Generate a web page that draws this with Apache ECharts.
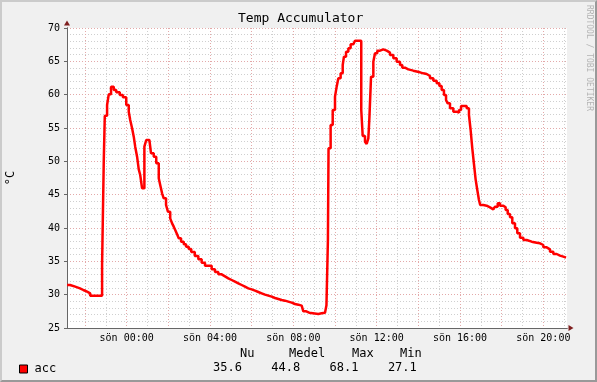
<!DOCTYPE html>
<html>
<head>
<meta charset="utf-8">
<script src="https://cdn.jsdelivr.net/npm/echarts@6/dist/echarts.min.js"></script>
<style>
  html, body { margin: 0; padding: 0; background: #f0f0f0; }
  #wrap { position: relative; width: 597px; height: 382px; }
  #chart { position: absolute; left: 0; top: 0; width: 597px; height: 382px; }
  #frame { position: absolute; left: 0; top: 0; width: 597px; height: 382px; box-sizing: border-box;
           border-top: 2px solid #cbcbcb; border-left: 2px solid #cbcbcb;
           border-right: 2px solid #999999; border-bottom: 2px solid #999999; pointer-events: none; }
</style>
</head>
<body>
<div id="wrap"><div id="chart"></div><div id="frame"></div></div>
<script>
// ---- data (hours relative to "sön 00:00", temperature °C) ----
const hours = [
  -2.86, -2.72, -2.47, -2.24, -2.08, -1.90, -1.75, -1.18, -1.10, -1.05,
  -0.94, -0.86, -0.75, -0.62, -0.50, -0.33, -0.18, -0.02, 0.10, 0.17,
  0.26, 0.34, 0.41, 0.50, 0.58, 0.65, 0.74, 0.85, 0.94, 1.09,
  1.17, 1.30, 1.42, 1.54, 1.61, 1.70, 1.78, 1.89, 1.98, 2.09,
  2.18, 2.26, 2.33, 2.42, 2.50, 2.61, 2.74, 2.85, 2.98, 3.10,
  3.27, 3.44, 3.60, 3.76, 4.08, 4.24, 4.40, 4.56, 4.72, 4.88,
  5.04, 5.20, 5.36, 5.52, 5.68, 5.84, 6.00, 6.16, 6.32, 6.48,
  6.64, 6.80, 6.96, 7.12, 7.28, 7.44, 7.60, 7.76, 7.92, 8.08,
  8.24, 8.40, 8.48, 8.62, 8.76, 9.20, 9.36, 9.52, 9.59, 9.66,
  9.69, 9.79, 9.89, 10.00, 10.08, 10.16, 10.27, 10.37, 10.43, 10.53,
  10.64, 10.75, 10.88, 10.96, 11.26, 11.33, 11.44, 11.52, 11.60, 11.65,
  11.73, 11.84, 11.92, 12.03, 12.16, 12.32, 12.48, 12.64, 12.80, 12.96,
  13.12, 13.23, 13.36, 13.52, 13.76, 14.08, 14.24, 14.40, 14.56, 14.72,
  14.88, 15.01, 15.12, 15.23, 15.33, 15.41, 15.52, 15.68, 15.84, 15.95,
  16.05, 16.32, 16.43, 16.51, 16.59, 16.67, 16.75, 16.83, 16.91, 16.97,
  17.12, 17.28, 17.44, 17.60, 17.68, 17.81, 17.92, 18.08, 18.19, 18.29,
  18.40, 18.51, 18.64, 18.75, 18.88, 19.04, 19.20, 19.44, 19.68, 19.84,
  20.00, 20.16, 20.32, 20.48, 20.64, 20.80, 20.96, 21.09
];
const temps = [
  31.45, 31.2, 30.95, 30.7, 30.45, 30.2, 29.85, 34.45, 49.95, 56.85,
  58.45, 60.05, 61.2, 60.7, 60.35, 59.95, 59.6, 58.45, 57.45, 56.2,
  54.95, 53.7, 52.2, 50.7, 48.8, 47.95, 45.95, 52.2, 53.2, 52.95,
  51.2, 50.7, 49.7, 47.45, 46.45, 45.2, 44.45, 43.45, 42.45, 41.45,
  40.7, 40.2, 39.7, 39.05, 38.45, 37.95, 37.55, 37.2, 36.85, 36.4,
  35.8, 35.3, 34.8, 34.35, 33.8, 33.4, 33.05, 32.75, 32.45, 32.2,
  31.95, 31.7, 31.45, 31.2, 30.95, 30.8, 30.6, 30.4, 30.2, 30.0,
  29.85, 29.7, 29.5, 29.35, 29.2, 29.1, 28.95, 28.8, 28.6, 28.5,
  28.35, 28.2, 27.5, 27.3, 27.1, 27.2, 27.3, 27.5, 28.4, 38.2,
  51.95, 55.45, 57.7, 59.7, 61.2, 62.45, 63.2, 64.45, 65.7, 66.45,
  66.95, 67.55, 67.45, 68.1, 57.7, 53.8, 52.95, 52.6, 53.45, 56.45,
  62.7, 64.95, 66.2, 66.6, 66.8, 66.6, 66.3, 65.95, 65.45, 64.95,
  64.45, 64.05, 63.8, 63.6, 63.35, 63.2, 63.1, 62.8, 62.45, 62.1,
  61.7, 61.3, 60.7, 59.95, 59.2, 58.7, 57.95, 57.45, 57.3, 57.7,
  58.3, 57.95, 56.95, 54.7, 51.95, 49.6, 47.3, 45.7, 44.2, 43.45,
  43.35, 43.1, 42.8, 42.6, 43.2, 43.7, 43.35, 43.1, 42.7, 42.1,
  41.6, 40.7, 39.95, 39.2, 38.55, 38.2, 37.95, 37.8, 37.7, 37.45,
  37.1, 36.8, 36.45, 36.1, 35.85, 35.7, 35.55, 35.55
];
const xLabelHours = [0, 4, 8, 12, 16, 20];
const xLabels = ['sön 00:00', 'sön 04:00', 'sön 08:00', 'sön 12:00', 'sön 16:00', 'sön 20:00'];
const xGridHours = [-2, -1, 0, 1, 2, 3, 4, 5, 6, 7, 8, 9, 10, 11, 12, 13, 14, 15, 16, 17, 18, 19, 20, 21];
const seriesName = 'acc';
const statNames = ['Nu', 'Medel', 'Max', 'Min'];
const statValues = ['35.6', '44.8', '68.1', '27.1'];

// ---- layout ----
const X_MIN = -2.864, X_MAX = 21.136;
const MONO = '"DejaVu Sans Mono", monospace';
const MAJOR = '#e3a9a9', MINOR = '#cfcfcf';
const headerX = [240, 289, 352, 400];
const valueX0 = 213, valueStep = 58.3;

const chart = echarts.init(document.getElementById('chart'), null, { renderer: 'canvas' });

const graphics = [
  { type: 'text', x: 238, y: 19, style: { text: 'Temp Accumulator', font: '13px ' + MONO, fill: '#000',
      textAlign: 'left', textVerticalAlign: 'middle', verticalAlign: 'middle' } },
  { type: 'text', x: 589, y: 5, rotation: -Math.PI / 2,
    style: { text: 'RRDTOOL / TOBI OETIKER', font: '8px ' + MONO, fill: '#b4b4b4',
      textAlign: 'left', textVerticalAlign: 'middle', verticalAlign: 'middle' } }
];
statNames.forEach((n, i) => {
  graphics.push({ type: 'text', x: headerX[i], y: 354,
    style: { text: n, font: '12px ' + MONO, fill: '#000', textAlign: 'left', textVerticalAlign: 'middle', verticalAlign: 'middle' } });
  graphics.push({ type: 'text', x: valueX0 + i * valueStep, y: 368,
    style: { text: statValues[i], font: '12px ' + MONO, fill: '#000', textAlign: 'left', textVerticalAlign: 'middle', verticalAlign: 'middle' } });
});

const option = {
  animation: false,
  backgroundColor: '#f0f0f0',
  grid: { left: 67, top: 28, width: 500, height: 300, show: true, backgroundColor: '#ffffff', borderWidth: 0,
    containLabel: false, outerBoundsMode: 'none' },
  legend: {
    data: [seriesName], left: 14, top: 358, icon: 'rect', itemWidth: 8, itemHeight: 8, itemGap: 10,
    itemStyle: { borderColor: '#000', borderWidth: 1 },
    textStyle: { fontFamily: MONO, fontSize: 12, color: '#000', padding: [0, 0, 0, 2] },
    selectedMode: false
  },
  graphic: graphics,
  xAxis: [
    { type: 'value', min: X_MIN, max: X_MAX, position: 'bottom', z: 3,
      axisLine: { show: true, onZero: false, lineStyle: { color: '#666', width: 1 } },
      axisTick: { show: false, customValues: xGridHours },
      axisLabel: { show: true, customValues: xLabelHours, margin: 5, fontFamily: MONO, fontSize: 10, color: '#000',
        formatter: v => xLabels[xLabelHours.indexOf(Math.round(v))] || '' },
      splitLine: { show: true, lineStyle: { color: [MAJOR, MINOR], type: [1, 2], width: 1 } } },
    { type: 'value', min: X_MIN, max: X_MAX, position: 'bottom', z: 2,
      axisLine: { show: true, onZero: false, symbol: ['none', 'triangle'], symbolSize: [6, 5], symbolOffset: [0, 4],
        lineStyle: { color: '#7f1f1f', width: 1 } },
      axisTick: { show: false }, axisLabel: { show: false }, splitLine: { show: false } }
  ],
  yAxis: [
    { type: 'value', min: 25, max: 70, interval: 5, position: 'left', z: 3,
      name: '°C', nameLocation: 'middle', nameGap: 50, nameRotate: 90, nameMoveOverlap: false,
      nameTextStyle: { fontFamily: MONO, fontSize: 12, color: '#000' },
      axisLine: { show: true, onZero: false, lineStyle: { color: '#666', width: 1 } },
      axisTick: { show: true, length: 3, lineStyle: { color: '#666' } },
      axisLabel: { margin: 7, fontFamily: MONO, fontSize: 10, color: '#000' },
      splitLine: { show: true, lineStyle: { color: MAJOR, type: [1, 2], width: 1 } } },
    { type: 'value', min: 25, max: 70, interval: 1, position: 'left', z: 1,
      axisLine: { show: false }, axisTick: { show: false }, axisLabel: { show: false },
      splitLine: { show: true, lineStyle: { color: ['rgba(0,0,0,0)', MINOR, MINOR, MINOR, MINOR], type: [1, 2], width: 1 } } },
    { type: 'value', min: 25, max: 70, position: 'left', z: 2,
      axisLine: { show: true, onZero: false, symbol: ['none', 'triangle'], symbolSize: [6, 5], symbolOffset: [0, 5],
        lineStyle: { color: '#7f1f1f', width: 1 } },
      axisTick: { show: false }, axisLabel: { show: false }, splitLine: { show: false } }
  ],
  series: [{
    name: seriesName, type: 'line', step: 'end', xAxisIndex: 0, yAxisIndex: 0, z: 5,
    data: hours.map((h, i) => [h, temps[i]]),
    showSymbol: false, symbol: 'none',
    itemStyle: { color: '#ff0000' },
    lineStyle: { color: '#ff0000', width: 2.5 }
  }]
};
chart.setOption(option);
</script>
</body>
</html>
